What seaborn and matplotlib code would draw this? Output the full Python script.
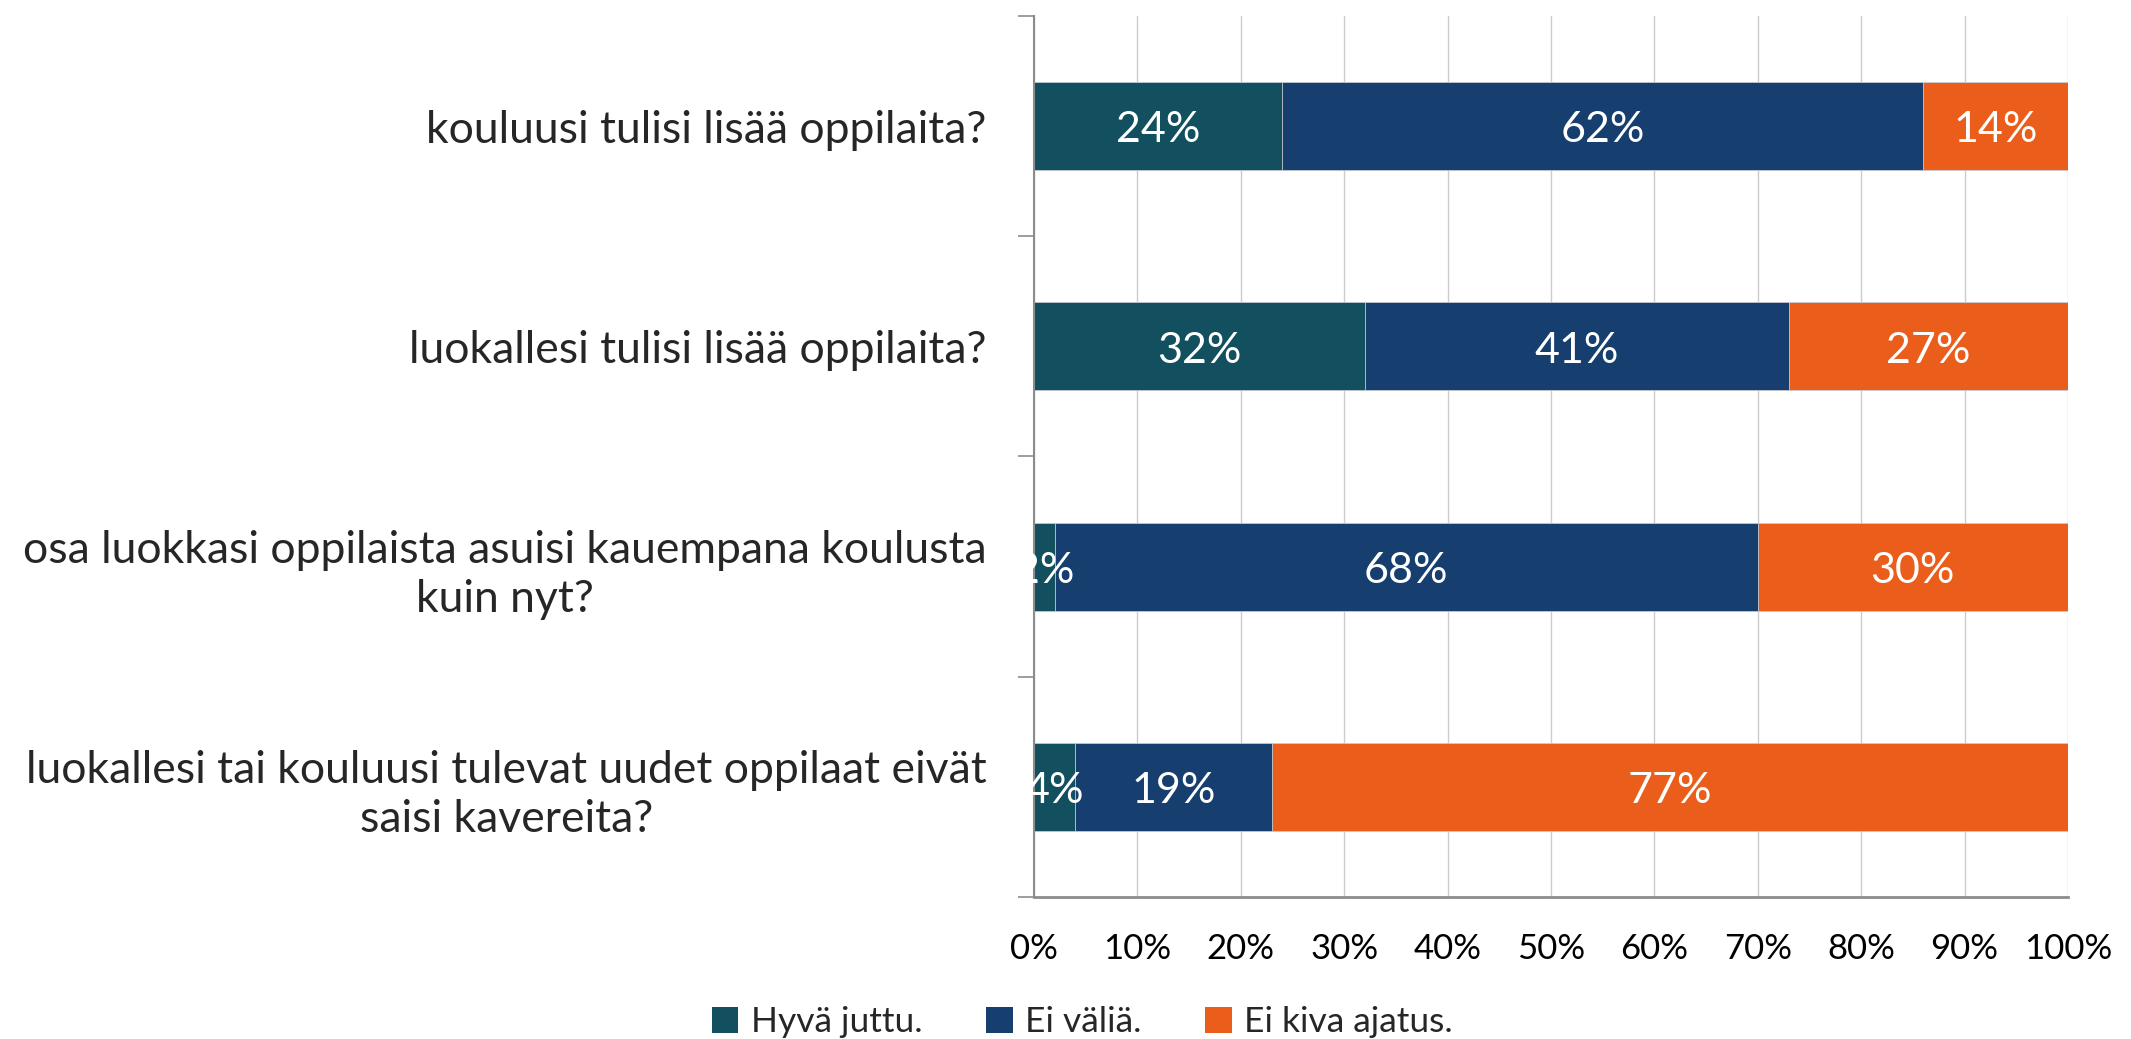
import numpy as np
import pandas as pd
import matplotlib
matplotlib.use("Agg")
import matplotlib.pyplot as plt
import seaborn as sns
from matplotlib.patches import Patch

categories = [
    "kouluusi tulisi lisää oppilaita?",
    "luokallesi tulisi lisää oppilaita?",
    "osa luokkasi oppilaista asuisi kauempana koulusta\nkuin nyt?",
    "luokallesi tai kouluusi tulevat uudet oppilaat eivät\nsaisi kavereita?",
]
series_names = ["Hyvä juttu.", "Ei väliä.", "Ei kiva ajatus."]
hyva = [24, 32, 2, 4]
ei_valia = [62, 41, 68, 19]
ei_kiva = [14, 27, 30, 77]
xticks = [0, 10, 20, 30, 40, 50, 60, 70, 80, 90, 100]
xtick_labels = ["0%", "10%", "20%", "30%", "40%", "50%", "60%", "70%", "80%", "90%", "100%"]

colors = ["#124F5F", "#163F6F", "#EA5D1A"]

sns.set_theme(style="white")
plt.rcParams["font.family"] = ["Lato", "DejaVu Sans"]

fig = plt.figure(figsize=(21.31, 10.39), dpi=100)
ax = fig.add_axes([0.4852, 0.1367, 0.4852, 0.848])

df = pd.DataFrame({"cat": categories, "a": hyva, "b": ei_valia, "c": ei_kiva})
df["ab"] = df["a"] + df["b"]
df["abc"] = df["ab"] + df["c"]

bw = 0.40
for col, colr in [("abc", colors[2]), ("ab", colors[1]), ("a", colors[0])]:
    sns.barplot(data=df, y="cat", x=col, orient="h", color=colr, width=bw,
                saturation=1, ax=ax, edgecolor="#c8cdd3", linewidth=0.6)

# data labels
lefts = np.zeros(len(categories))
for vals in [hyva, ei_valia, ei_kiva]:
    for i, v in enumerate(vals):
        ax.text(lefts[i] + v / 2, i + 0.02, f"{v}%", ha="center", va="center",
                color="white", fontsize=31, clip_on=False)
    lefts = lefts + np.array(vals)

ax.set_xlim(0, 100)
ax.set_ylim(3.5, -0.5)
ax.set_xticks(xticks)
ax.set_xticklabels(xtick_labels, fontsize=25)
ax.set_xlabel("")
ax.set_ylabel("")
ax.set_yticks(range(len(categories)))
ax.set_yticklabels(categories, fontsize=32, ha="right", multialignment="center")
for lbl in ax.get_yticklabels():
    lbl.set_linespacing(1.25)
ax.tick_params(axis="y", which="major", length=0, pad=34)
ax.set_yticks(np.arange(-0.5, len(categories), 1.0), minor=True)
ax.tick_params(axis="y", which="minor", length=11.5, width=1.2, color="#8c8c8c", left=True)
ax.tick_params(axis="x", which="major", length=0, pad=26, colors="black")

ax.grid(axis="x", color="#cccccc", linewidth=1.0)
ax.set_axisbelow(True)
for s in ["top", "right"]:
    ax.spines[s].set_visible(False)
ax.spines["left"].set_color("#8c8c8c")
ax.spines["left"].set_linewidth(1.5)
ax.spines["bottom"].set_color("#8c8c8c")
ax.spines["bottom"].set_linewidth(2.0)

handles = [Patch(facecolor=c, edgecolor="none") for c in colors]
fig.legend(handles, series_names, loc="center", bbox_to_anchor=(0.508, 0.016),
           ncol=3, frameon=False, fontsize=25.5, handlelength=0.75, handleheight=0.75,
           handletextpad=0.35, columnspacing=1.8)

fig.savefig("out.png", dpi=100)
